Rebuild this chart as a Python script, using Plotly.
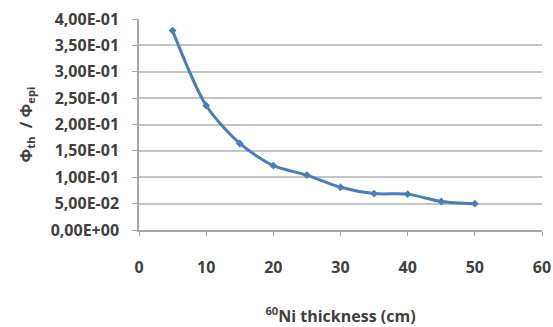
import plotly.graph_objects as go

thickness = [5, 10, 15, 20, 25, 30, 35, 40, 45, 50]
ratio = [0.378, 0.236, 0.164, 0.122, 0.104, 0.081, 0.069, 0.068, 0.054, 0.050]
y_tickvals = [0, 0.05, 0.10, 0.15, 0.20, 0.25, 0.30, 0.35, 0.40]
y_ticktext = ["0,00E+00", "5,00E-02", "1,00E-01", "1,50E-01", "2,00E-01",
              "2,50E-01", "3,00E-01", "3,50E-01", "4,00E-01"]
x_tickvals = [0, 10, 20, 30, 40, 50, 60]

fig = go.Figure()
fig.add_trace(go.Scatter(
    x=thickness, y=ratio, mode="lines+markers",
    line=dict(color="#4a7ebb", width=3, shape="spline", smoothing=0.8),
    marker=dict(symbol="diamond", size=6, color="#4a7ebb"),
    showlegend=False,
))

FAM = "Open Sans, Liberation Sans, sans-serif"
tick_font = dict(family=FAM, size=16, color="#404040", weight="bold")
fig.update_layout(
    width=553, height=327,
    margin=dict(l=139, r=11, t=19, b=97),
    paper_bgcolor="white", plot_bgcolor="white",
    font=tick_font,
    xaxis=dict(
        range=[0, 60], tickvals=x_tickvals, showgrid=False, automargin=False,
        showline=True, linecolor="#a6a6a6", linewidth=1.5,
        ticks="outside", ticklen=4, tickcolor="#a6a6a6",
        ticklabelstandoff=18, zeroline=False, tickfont=tick_font,
        title=dict(text="<sup>60</sup>Ni thickness (cm)", standoff=34,
                   font=dict(family=FAM, size=16, color="#404040", weight="bold")),
    ),
    yaxis=dict(
        range=[0, 0.4], tickvals=y_tickvals, ticktext=y_ticktext,
        showgrid=True, gridcolor="#c4c4c4", gridwidth=2, automargin=False,
        showline=True, linecolor="#a6a6a6", linewidth=1.5,
        ticks="outside", ticklen=5, tickcolor="#a6a6a6",
        ticklabelstandoff=10, zeroline=False, tickfont=tick_font,
        title=dict(text="Φ<sub>th</sub>  / Φ<sub>epi</sub>", standoff=14,
                   font=dict(family=FAM, size=16, color="#404040", weight="bold")),
    ),
)

fig.write_html("out.html", config={"displayModeBar": False},
               post_script="document.body.style.margin='0';document.body.style.overflow='hidden';")
